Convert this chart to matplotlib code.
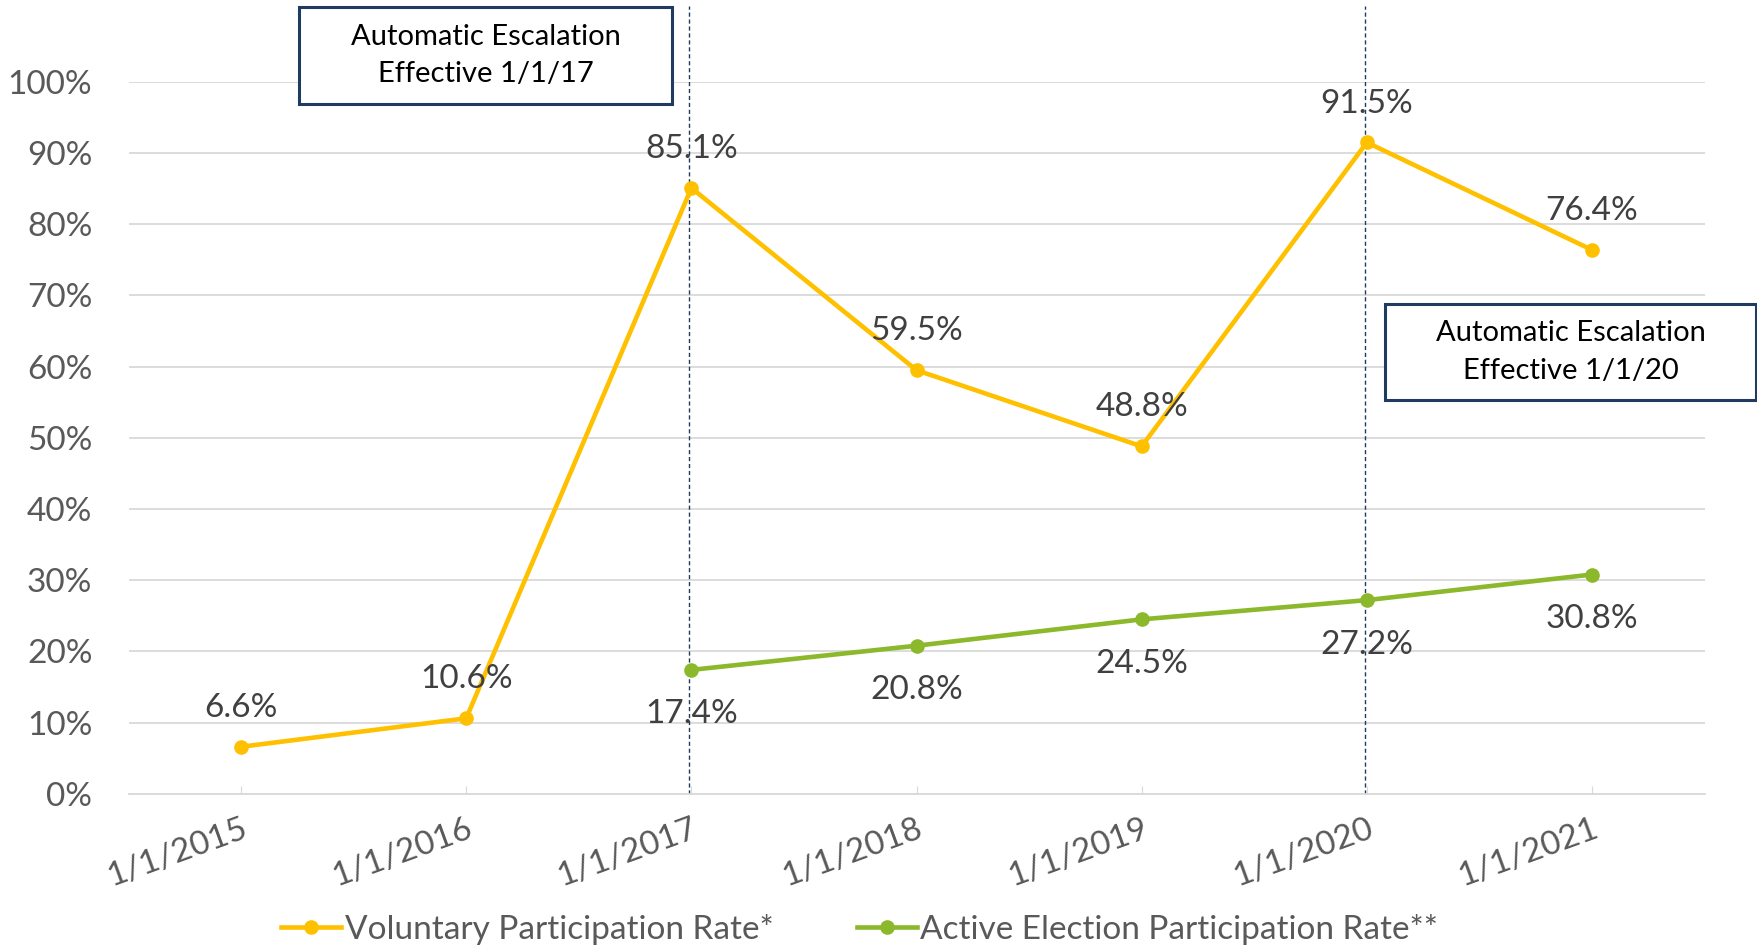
import matplotlib.pyplot as plt
from matplotlib.patches import Rectangle
import numpy as np

# data
dates = ['1/1/2015', '1/1/2016', '1/1/2017', '1/1/2018', '1/1/2019', '1/1/2020', '1/1/2021']
voluntary = [6.6, 10.6, 85.1, 59.5, 48.8, 91.5, 76.4]
active = [np.nan, np.nan, 17.4, 20.8, 24.5, 27.2, 30.8]
escalation_idx = [2, 5]
escalation_text = ['Automatic Escalation\nEffective 1/1/17', 'Automatic Escalation\nEffective 1/1/20']

plt.rcParams['font.family'] = ['Lato', 'DejaVu Sans']
yellow = '#FFC000'
green = '#8CB82B'
navy = '#1F3B5F'
grey_txt = '#595959'
W, H = 1758, 948

fig = plt.figure(figsize=(17.58, 9.48), dpi=100)
ax = fig.add_axes([0.0731, 0.1627, 0.8965, 0.7509])
x = np.arange(len(dates))

ax.plot(x, voluntary, color=yellow, lw=3.3, marker='o', ms=9.5, label='Voluntary Participation Rate*', zorder=3)
ax.plot(x, active, color=green, lw=3.3, marker='o', ms=9.5, label='Active Election Participation Rate**', zorder=3)

# data labels
for xi, v in zip(x, voluntary):
    ax.annotate(f'{v:.1f}%', (xi, v), xytext=(0, 28), textcoords='offset points',
                ha='center', va='center', fontsize=24, color='#404040', zorder=4)
for xi, v in zip(x, active):
    if np.isnan(v):
        continue
    ax.annotate(f'{v:.1f}%', (xi, v), xytext=(0, -32), textcoords='offset points',
                ha='center', va='center', fontsize=24, color='#404040', zorder=4)

# escalation lines
for i in escalation_idx:
    ax.axvline(i - 0.01, ymin=0, ymax=1.107, color=navy, lw=1, ls=(0, (3, 2)), clip_on=False, zorder=2)

# annotation boxes (pixel extents)
boxes = [(299, 672, 7, 104), (1385, 1756, 304, 400)]
for (x0, x1, y0, y1), txt in zip(boxes, escalation_text):
    fig.add_artist(Rectangle((x0 / W, 1 - y1 / H), (x1 - x0) / W, (y1 - y0) / H,
                             transform=fig.transFigure, fc='white', ec=navy, lw=2.2, zorder=5))
    fig.text((x0 + x1) / 2 / W, 1 - (y0 + y1) / 2 / H, txt, ha='center', va='center',
             fontsize=21, color='black', linespacing=1.55, zorder=6)

ax.set_xlim(-0.5, 6.5)
ax.set_ylim(0, 100)
ax.set_yticks(np.arange(0, 101, 10))
ax.set_yticklabels([f'{t}%' for t in range(0, 101, 10)])
ax.set_xticks(x)
ax.set_xticklabels(dates, rotation=20, ha='right', rotation_mode='anchor')
ax.grid(axis='y', color='#D9D9D9', lw=1.3)
ax.set_axisbelow(True)
for s in ['top', 'right', 'left']:
    ax.spines[s].set_visible(False)
ax.spines['bottom'].set_color('#D9D9D9')
ax.spines['bottom'].set_linewidth(1.3)
ax.tick_params(axis='y', length=0, pad=26, labelsize=24, labelcolor=grey_txt)
ax.tick_params(axis='x', direction='in', length=6, color='#D9D9D9', pad=14, labelsize=24, labelcolor=grey_txt)

fig.legend(loc='center', bbox_to_anchor=(0.489, 0.02), ncol=2, frameon=False, fontsize=24,
           labelcolor=grey_txt, handlelength=1.8, handletextpad=0.1, columnspacing=2.5)

fig.savefig('out.png', dpi=100)
